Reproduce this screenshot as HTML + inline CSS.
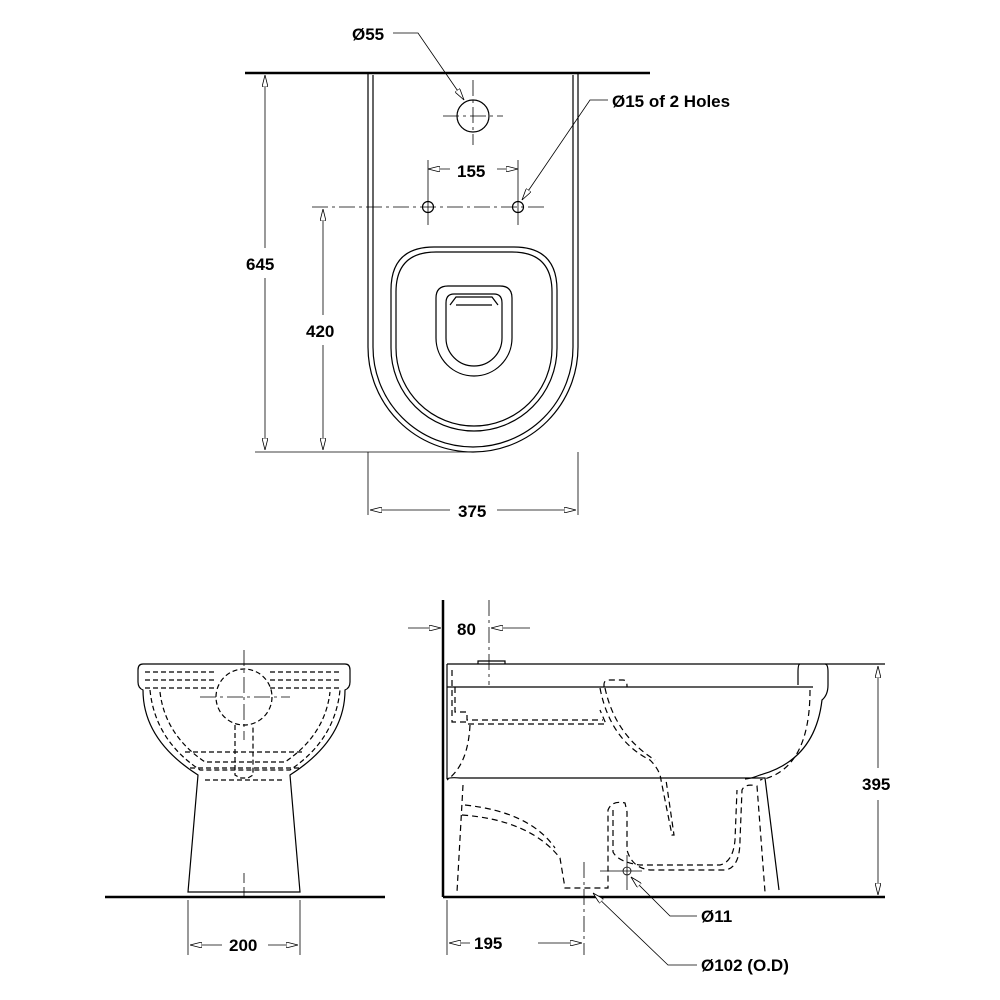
<!DOCTYPE html>
<html><head><meta charset="utf-8"><style>
html,body{margin:0;padding:0;background:#fff}
svg{display:block}
text{font-family:"Liberation Sans",sans-serif;font-weight:bold;font-size:17px;fill:#000}
</style></head><body>
<svg width="1000" height="1000" viewBox="0 0 1000 1000" xmlns="http://www.w3.org/2000/svg">
<defs>
<marker id="a" viewBox="0 0 12 6" refX="12" refY="3" markerWidth="12" markerHeight="6" orient="auto-start-reverse" markerUnits="userSpaceOnUse"><path d="M0,0 L12,3 L0,6 Z" fill="#fff" stroke="#000" stroke-width="0.8"/></marker>
</defs>
<g fill="none" stroke="#000" stroke-width="1.2">
<!-- TOP VIEW -->
<line x1="245" y1="73" x2="650" y2="73" stroke-width="2.5"/>
<path d="M368,73 V347 A105,105 0 0 0 578,347 V73"/>
<path d="M373,75 V347 A100,100 0 0 0 573,347 V75"/>
<path d="M391,290 Q391,247 434,247 H514 Q557,247 557,290 V348 A83,83 0 0 1 391,348 Z"/>
<path d="M396,292 Q396,252 436,252 H512 Q552,252 552,292 V348 A78,78 0 0 1 396,348 Z"/>
<path d="M436,298 Q436,286 448,286 H500 Q512,286 512,298 V338 A38,38 0 0 1 436,338 Z"/>
<path d="M446,303 Q446,294 454,294 H494 Q502,294 502,303 V338 A28,28 0 0 1 446,338 Z"/>
<path d="M450,305 L456,297 H492 L498,305 M456,305 H492"/>
<circle cx="473" cy="116" r="16"/>
<circle cx="428" cy="207" r="5.5"/>
<circle cx="518" cy="207" r="5.5"/>
<g stroke-width="0.8" stroke-dasharray="16,4,3,4">
<line x1="473" y1="80" x2="473" y2="145"/><line x1="443" y1="116" x2="503" y2="116"/>
<line x1="312" y1="207" x2="545" y2="207"/>
</g>
<g stroke-width="0.8">
<line x1="428" y1="160" x2="428" y2="225"/><line x1="518" y1="160" x2="518" y2="225"/>
<line x1="255" y1="452" x2="473" y2="452"/>
<line x1="368" y1="452" x2="368" y2="515"/><line x1="578" y1="452" x2="578" y2="515"/>
<line x1="428" y1="169" x2="450" y2="169" marker-start="url(#a)"/>
<line x1="497" y1="169" x2="518" y2="169" marker-end="url(#a)"/>
<line x1="265" y1="75" x2="265" y2="248" marker-start="url(#a)"/>
<line x1="265" y1="278" x2="265" y2="450" marker-end="url(#a)"/>
<line x1="323" y1="209" x2="323" y2="315" marker-start="url(#a)"/>
<line x1="323" y1="345" x2="323" y2="450" marker-end="url(#a)"/>
<line x1="370" y1="510" x2="450" y2="510" marker-start="url(#a)"/>
<line x1="497" y1="510" x2="576" y2="510" marker-end="url(#a)"/>
<polyline points="393,33 418,33 464,100" marker-end="url(#a)"/>
<polyline points="608,100 590,100 522,200" marker-end="url(#a)"/>
</g>
<!-- SIDE VIEW -->
<line x1="443" y1="600" x2="443" y2="897" stroke-width="2.5"/>
<line x1="443" y1="897" x2="885" y2="897" stroke-width="2.5"/>
<line x1="447" y1="664" x2="885" y2="664"/>
<path d="M447,664 V779 M447,687 H813"/>
<path d="M478,664 V661 H505 V664"/>
<path d="M800,664 Q798,664 798,672 V685 M825,664 Q828,664 828,672 V685 Q828,695 822,700 Q815,760 760,775 Q750,779 745,779"/>
<path d="M447,779 Q450,777 460,778 H765 L779,890"/>
<g stroke-dasharray="6,4">
<path d="M452,670 V722 H467 V724 H606 L600,710"/>
<path d="M455,687 V712 H467 V720 H603"/>
<path d="M604,687 V684 Q604,680 610,680 H623 Q627,680 627,686 V687"/>
<path d="M600,688 Q610,740 650,760 Q660,770 661,780 L672,835 H674 L666,780"/>
<path d="M605,688 Q615,735 655,760"/>
<path d="M470,725 Q468,765 447,780"/>
<path d="M810,690 Q810,770 760,780"/>
<path d="M463,785 L457,892 M462,815 Q530,820 560,858 L565,888 H608 V810 Q612,800 625,803 L627,812 V850 Q632,868 650,870 H725 Q740,868 740,840 L742,790 Q745,783 757,786 L765,892"/>
<path d="M465,805 Q530,812 555,848 M613,810 V852 Q618,862 640,865 H720 Q733,862 735,840 L737,790"/>
</g>
<g stroke-width="0.8">
<circle cx="627" cy="871" r="4"/>
<line x1="600" y1="871" x2="642" y2="871"/><line x1="627" y1="855" x2="627" y2="890"/>
<line x1="584" y1="862" x2="584" y2="955" stroke-dasharray="16,4,3,4"/>
<line x1="489" y1="600" x2="489" y2="685" stroke-dasharray="16,4,3,4"/>
<line x1="408" y1="628" x2="441" y2="628" marker-end="url(#a)"/>
<line x1="530" y1="628" x2="491" y2="628" marker-end="url(#a)"/>
<line x1="447" y1="900" x2="447" y2="955"/>
<line x1="449" y1="943" x2="470" y2="943" marker-start="url(#a)"/>
<line x1="538" y1="943" x2="582" y2="943" marker-end="url(#a)"/>
<line x1="878" y1="666" x2="878" y2="768" marker-start="url(#a)"/>
<line x1="878" y1="800" x2="878" y2="895" marker-end="url(#a)"/>
<polyline points="697,916 670,916 631,877" marker-end="url(#a)"/>
<polyline points="697,965 668,965 593,893" marker-end="url(#a)"/>
</g>
<!-- FRONT VIEW -->
<line x1="105" y1="897" x2="385" y2="897" stroke-width="2.5"/>
<path d="M143,664 H345 Q350,664 350,670 V682 Q350,688 345,690 Q345,740 290,775 L300,892 H188 L198,775 Q143,740 143,690 Q138,688 138,682 V670 Q138,664 143,664 Z"/>
<g stroke-dasharray="5,3">
<path d="M145,672 H215 M145,680 H215 M145,688 H215 M270,672 H342 M270,680 H342 M270,688 H342"/>
<circle cx="244" cy="697" r="28"/>
<path d="M150,690 Q155,740 200,770 H290 Q335,740 340,690"/>
<path d="M160,692 Q165,735 205,762 H285 Q325,735 330,692"/>
<path d="M185,752 H305 M190,768 H300 M205,780 H285"/>
<path d="M235,725 V775 L240,778 H248 L253,775 V725"/>
</g>
<g stroke-width="0.8">
<line x1="244" y1="650" x2="244" y2="740" stroke-dasharray="16,4,3,4"/>
<line x1="200" y1="697" x2="290" y2="697" stroke-dasharray="16,4,3,4"/>
<line x1="244" y1="873" x2="244" y2="900" stroke-dasharray="10,4"/>
<line x1="188" y1="900" x2="188" y2="955"/><line x1="300" y1="900" x2="300" y2="955"/>
<line x1="190" y1="945" x2="222" y2="945" marker-start="url(#a)"/>
<line x1="268" y1="945" x2="298" y2="945" marker-end="url(#a)"/>
</g>
</g>
<text x="352" y="40">Ø55</text>
<text x="612" y="107">Ø15 of 2 Holes</text>
<text x="457" y="177">155</text>
<text x="246" y="270">645</text>
<text x="306" y="337">420</text>
<text x="458" y="517">375</text>
<text x="457" y="635">80</text>
<text x="862" y="790">395</text>
<text x="701" y="922">Ø11</text>
<text x="701" y="971">Ø102 (O.D)</text>
<text x="229" y="951">200</text>
<text x="474" y="949">195</text>
</svg>
</body></html>
